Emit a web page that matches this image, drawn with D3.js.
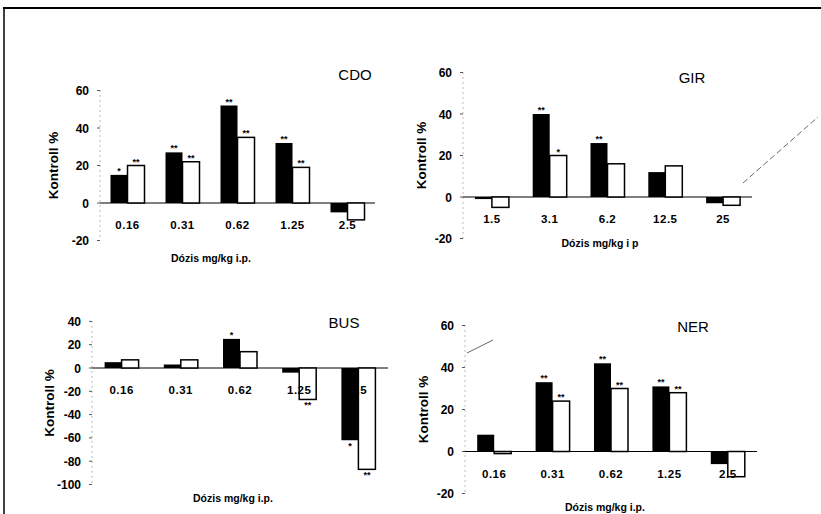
<!DOCTYPE html>
<html>
<head>
<meta charset="utf-8">
<script src="https://cdn.jsdelivr.net/npm/d3@7"></script>
<style>
  body { margin: 0; background: #fff; }
  text { font-family: "Liberation Sans", Arial, sans-serif; fill: #000; }
</style>
</head>
<body>
<div id="myDiv"></div>
<script>
// dose categories
var cdoDoses = ["0.16", "0.31", "0.62", "1.25", "2.5"];
var girDoses = ["1.5", "3.1", "6.2", "12.5", "25"];
var busDoses = ["0.16", "0.31", "0.62", "1.25", "2.5"];
var nerDoses = ["0.16", "0.31", "0.62", "1.25", "2.5"];

// values (% of control), black and white bars
var cdoBlack = [15, 27, 52, 32, -5];
var cdoWhite = [20, 22, 35, 19, -9];
var girBlack = [-1, 40, 26, 12, -3];
var girWhite = [-5, 20, 16, 15, -4];
var busBlack = [5, 3, 25, -4, -62];
var busWhite = [7, 7, 14, -27, -87];
var nerBlack = [8, 33, 42, 31, -6];
var nerWhite = [-1, 24, 30, 28, -12];

// significance marks
var cdoBlackSig = ["*", "**", "**", "**", ""];
var cdoWhiteSig = ["**", "**", "**", "**", ""];
var girBlackSig = ["", "**", "**", "", ""];
var girWhiteSig = ["", "*", "", "", ""];
var busBlackSig = ["", "", "*", "", "*"];
var busWhiteSig = ["", "", "", "**", "**"];
var nerBlackSig = ["", "**", "**", "**", ""];
var nerWhiteSig = ["", "**", "**", "**", ""];

// y ticks
var ticks60 = [-20, 0, 20, 40, 60];
var ticksBus = [-100, -80, -60, -40, -20, 0, 20, 40];

var xTitle = "Dózis mg/kg i.p.";
var xTitleGir = "Dózis mg/kg i p";
var yTitle = "Kontroll %";

var width = 821, height = 514, barW = 17;

var svg = d3.select("#myDiv").append("svg").attr("width", width).attr("height", height);

// page frame
svg.append("line").attr("x1", 3).attr("x2", 821).attr("y1", 8).attr("y2", 8)
  .attr("stroke", "#000").attr("stroke-width", 2);
svg.append("line").attr("x1", 4).attr("x2", 4).attr("y1", 8).attr("y2", 514)
  .attr("stroke", "#000").attr("stroke-width", 1.5);

var panels = [
  { name: "CDO", doses: cdoDoses, black: cdoBlack, white: cdoWhite, bs: cdoBlackSig, ws: cdoWhiteSig,
    ticks: ticks60, dom: [-20, 60], x0: 100, x1: 375, yTop: 90.5, yBot: 240.5,
    title: [355, 80], xt: [211, 262], xtText: xTitle, ytx: 58 },
  { name: "GIR", doses: girDoses, black: girBlack, white: girWhite, bs: girBlackSig, ws: girWhiteSig,
    ticks: ticks60, dom: [-20, 60], x0: 463, x1: 752, yTop: 72.5, yBot: 238.5,
    title: [692, 83], xt: [600, 247], xtText: xTitleGir, ytx: 426 },
  { name: "BUS", doses: busDoses, black: busBlack, white: busWhite, bs: busBlackSig, ws: busWhiteSig,
    ticks: ticksBus, dom: [-100, 40], x0: 92, x1: 388, yTop: 321.4, yBot: 484.5,
    title: [344, 328], xt: [233, 502], xtText: xTitle, ytx: 54 },
  { name: "NER", doses: nerDoses, black: nerBlack, white: nerWhite, bs: nerBlackSig, ws: nerWhiteSig,
    ticks: ticks60, dom: [-20, 60], x0: 465, x1: 757, yTop: 325.5, yBot: 493.5,
    title: [693, 332], xt: [605, 511], xtText: xTitle, ytx: 428 }
];

panels.forEach(function(p) {
  var x = d3.scaleBand().domain(p.doses).range([p.x0, p.x1]);
  var y = d3.scaleLinear().domain(p.dom).range([p.yBot, p.yTop]);
  var g = svg.append("g");

  // y axis: dotted line with tick labels
  g.append("line").attr("x1", p.x0).attr("x2", p.x0).attr("y1", y(p.dom[1])).attr("y2", y(p.dom[0]))
    .attr("stroke", "#777").attr("stroke-width", 1).attr("stroke-dasharray", "1,4");
  g.selectAll(".tk").data(p.ticks).enter().append("line")
    .attr("x1", p.x0 - 3).attr("x2", p.x0)
    .attr("y1", function(d) { return y(d); }).attr("y2", function(d) { return y(d); })
    .attr("stroke", "#555").attr("stroke-width", 1);
  g.selectAll(".tl").data(p.ticks).enter().append("text")
    .attr("x", p.x0 - 11).attr("y", function(d) { return y(d) + 4.5; })
    .attr("text-anchor", "end").style("font-size", "12px").style("font-weight", "bold")
    .text(function(d) { return d; });

  // zero line
  g.append("line").attr("x1", p.x0).attr("x2", p.x1).attr("y1", y(0)).attr("y2", y(0))
    .attr("stroke", "#000").attr("stroke-width", 1.2);

  // bars
  var grp = g.selectAll(".grp").data(p.doses).enter().append("g");
  grp.append("rect")
    .attr("x", function(d) { return x(d) + x.bandwidth() / 2 - barW; })
    .attr("y", function(d, i) { return y(Math.max(0, p.black[i])); })
    .attr("width", barW)
    .attr("height", function(d, i) { return Math.abs(y(p.black[i]) - y(0)); })
    .attr("fill", "#000");
  grp.append("rect")
    .attr("x", function(d) { return x(d) + x.bandwidth() / 2; })
    .attr("y", function(d, i) { return y(Math.max(0, p.white[i])); })
    .attr("width", barW)
    .attr("height", function(d, i) { return Math.abs(y(p.white[i]) - y(0)); })
    .attr("fill", "#fff").attr("stroke", "#000").attr("stroke-width", 1.5);

  // significance marks
  function sig(vals, marks, off) {
    g.selectAll(null).data(p.doses).enter().append("text")
      .attr("x", function(d) { return x(d) + x.bandwidth() / 2 + off; })
      .attr("y", function(d, i) { return vals[i] >= 0 ? y(vals[i]) - 1 : y(vals[i]) + 9; })
      .attr("text-anchor", "middle").style("font-size", "9px").style("font-weight", "bold")
      .text(function(d, i) { return marks[i]; });
  }
  sig(p.black, p.bs, -barW / 2);
  sig(p.white, p.ws, barW / 2);

  // dose labels
  g.selectAll(".cl").data(p.doses).enter().append("text")
    .attr("x", function(d) { return x(d) + x.bandwidth() / 2; })
    .attr("y", y(0) + 26)
    .attr("text-anchor", "middle").style("font-size", "11.5px").style("font-weight", "bold")
    .style("letter-spacing", "0.5px")
    .text(function(d) { return d; });

  // titles
  g.append("text").attr("x", p.title[0]).attr("y", p.title[1]).attr("text-anchor", "middle")
    .style("font-size", "15px").text(p.name);
  g.append("text").attr("x", p.xt[0]).attr("y", p.xt[1]).attr("text-anchor", "middle")
    .style("font-size", "10.5px").style("font-weight", "bold").text(p.xtText);
  g.append("text")
    .attr("transform", "translate(" + p.ytx + "," + (p.yTop + p.yBot) / 2 + ") rotate(-90)")
    .attr("text-anchor", "middle").style("font-size", "13.5px").style("font-weight", "bold").text(yTitle);
});

// scan marks
svg.append("line").attr("x1", 743).attr("y1", 183).attr("x2", 818).attr("y2", 117)
  .attr("stroke", "#666").attr("stroke-width", 1).attr("stroke-dasharray", "6,3");
svg.append("line").attr("x1", 467).attr("y1", 353).attr("x2", 493).attr("y2", 340)
  .attr("stroke", "#666").attr("stroke-width", 1);
</script>
</body>
</html>
